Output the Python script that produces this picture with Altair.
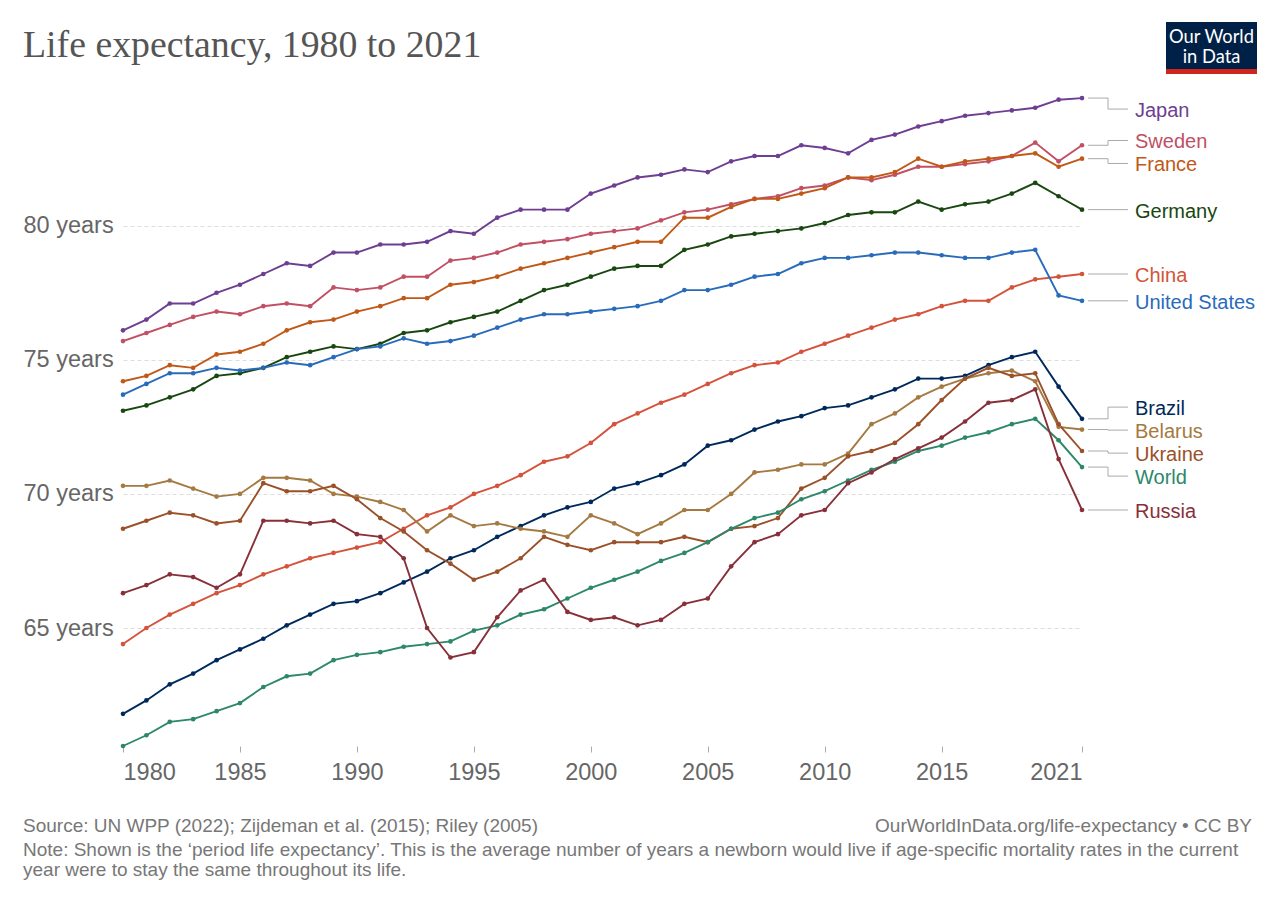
import altair as alt
import pandas as pd

years = list(range(1980, 2022))

countries = ["Japan", "Sweden", "France", "Germany", "China", "United States",
             "Brazil", "Belarus", "Ukraine", "World", "Russia"]
colors = ["#6D3E91", "#C15065", "#C05917", "#18470F", "#D4533B", "#286BBB",
          "#00295B", "#A57942", "#9A5129", "#2D8769", "#883039"]

japan = [76.1, 76.5, 77.1, 77.1, 77.5, 77.8, 78.2, 78.6, 78.5, 79.0,
         79.0, 79.3, 79.3, 79.4, 79.8, 79.7, 80.3, 80.6, 80.6, 80.6,
         81.2, 81.5, 81.8, 81.9, 82.1, 82.0, 82.4, 82.6, 82.6, 83.0,
         82.9, 82.7, 83.2, 83.4, 83.7, 83.9, 84.1, 84.2, 84.3, 84.4,
         84.7, 84.76]
sweden = [75.7, 76.0, 76.3, 76.6, 76.8, 76.7, 77.0, 77.1, 77.0, 77.7,
          77.6, 77.7, 78.1, 78.1, 78.7, 78.8, 79.0, 79.3, 79.4, 79.5,
          79.7, 79.8, 79.9, 80.2, 80.5, 80.6, 80.8, 81.0, 81.1, 81.4,
          81.5, 81.8, 81.7, 81.9, 82.2, 82.2, 82.3, 82.4, 82.6, 83.1,
          82.4, 83.0]
france = [74.2, 74.4, 74.8, 74.7, 75.2, 75.3, 75.6, 76.1, 76.4, 76.5,
          76.8, 77.0, 77.3, 77.3, 77.8, 77.9, 78.1, 78.4, 78.6, 78.8,
          79.0, 79.2, 79.4, 79.4, 80.3, 80.3, 80.7, 81.0, 81.0, 81.2,
          81.4, 81.8, 81.8, 82.0, 82.5, 82.2, 82.4, 82.5, 82.6, 82.7,
          82.2, 82.5]
germany = [73.1, 73.3, 73.6, 73.9, 74.4, 74.5, 74.7, 75.1, 75.3, 75.5,
           75.4, 75.6, 76.0, 76.1, 76.4, 76.6, 76.8, 77.2, 77.6, 77.8,
           78.1, 78.4, 78.5, 78.5, 79.1, 79.3, 79.6, 79.7, 79.8, 79.9,
           80.1, 80.4, 80.5, 80.5, 80.9, 80.6, 80.8, 80.9, 81.2, 81.6,
           81.1, 80.6]
china = [64.4, 65.0, 65.5, 65.9, 66.3, 66.6, 67.0, 67.3, 67.6, 67.8,
         68.0, 68.2, 68.7, 69.2, 69.5, 70.0, 70.3, 70.7, 71.2, 71.4,
         71.9, 72.6, 73.0, 73.4, 73.7, 74.1, 74.5, 74.8, 74.9, 75.3,
         75.6, 75.9, 76.2, 76.5, 76.7, 77.0, 77.2, 77.2, 77.7, 78.0,
         78.1, 78.2]
united_states = [73.7, 74.1, 74.5, 74.5, 74.7, 74.6, 74.7, 74.9, 74.8, 75.1,
                 75.4, 75.5, 75.8, 75.6, 75.7, 75.9, 76.2, 76.5, 76.7, 76.7,
                 76.8, 76.9, 77.0, 77.2, 77.6, 77.6, 77.8, 78.1, 78.2, 78.6,
                 78.8, 78.8, 78.9, 79.0, 79.0, 78.9, 78.8, 78.8, 79.0, 79.1,
                 77.4, 77.2]
brazil = [61.8, 62.3, 62.9, 63.3, 63.8, 64.2, 64.6, 65.1, 65.5, 65.9,
          66.0, 66.3, 66.7, 67.1, 67.6, 67.9, 68.4, 68.8, 69.2, 69.5,
          69.7, 70.2, 70.4, 70.7, 71.1, 71.8, 72.0, 72.4, 72.7, 72.9,
          73.2, 73.3, 73.6, 73.9, 74.3, 74.3, 74.4, 74.8, 75.1, 75.3,
          74.0, 72.8]
belarus = [70.3, 70.3, 70.5, 70.2, 69.9, 70.0, 70.6, 70.6, 70.5, 70.0,
           69.9, 69.7, 69.4, 68.6, 69.2, 68.8, 68.9, 68.7, 68.6, 68.4,
           69.2, 68.9, 68.5, 68.9, 69.4, 69.4, 70.0, 70.8, 70.9, 71.1,
           71.1, 71.5, 72.6, 73.0, 73.6, 74.0, 74.3, 74.5, 74.6, 74.2,
           72.5, 72.4]
ukraine = [68.7, 69.0, 69.3, 69.2, 68.9, 69.0, 70.4, 70.1, 70.1, 70.3,
           69.8, 69.1, 68.6, 67.9, 67.4, 66.8, 67.1, 67.6, 68.4, 68.1,
           67.9, 68.2, 68.2, 68.2, 68.4, 68.2, 68.7, 68.8, 69.1, 70.2,
           70.6, 71.4, 71.6, 71.9, 72.6, 73.5, 74.3, 74.7, 74.4, 74.5,
           72.6, 71.6]
world = [60.6, 61.0, 61.5, 61.6, 61.9, 62.2, 62.8, 63.2, 63.3, 63.8,
         64.0, 64.1, 64.3, 64.4, 64.5, 64.9, 65.1, 65.5, 65.7, 66.1,
         66.5, 66.8, 67.1, 67.5, 67.8, 68.2, 68.7, 69.1, 69.3, 69.8,
         70.1, 70.5, 70.9, 71.2, 71.6, 71.8, 72.1, 72.3, 72.6, 72.8,
         72.0, 71.0]
russia = [66.3, 66.6, 67.0, 66.9, 66.5, 67.0, 69.0, 69.0, 68.9, 69.0,
          68.5, 68.4, 67.6, 65.0, 63.9, 64.1, 65.4, 66.4, 66.8, 65.6,
          65.3, 65.4, 65.1, 65.3, 65.9, 66.1, 67.3, 68.2, 68.5, 69.2,
          69.4, 70.4, 70.8, 71.3, 71.7, 72.1, 72.7, 73.4, 73.5, 73.9,
          71.3, 69.4]

series = [japan, sweden, france, germany, china, united_states,
          brazil, belarus, ukraine, world, russia]

x_ticks = [1980, 1985, 1990, 1995, 2000, 2005, 2010, 2015, 2021]
y_ticks = [65, 70, 75, 80]

title_text = "Life expectancy, 1980 to 2021"
source_text = "Source: UN WPP (2022); Zijdeman et al. (2015); Riley (2005)"
url_text = "OurWorldInData.org/life-expectancy \u2022 CC BY"
note_line1 = ("Note: Shown is the \u2018period life expectancy\u2019. This is the average number of years "
              "a newborn would live if age-specific mortality rates in the current")
note_line2 = "year were to stay the same throughout its life."

YMIN, YMAX = 60.6, 84.8
W, H = 959, 649
GAP = 23 * (YMAX - YMIN) / H  # label spacing in data units

rows = []
for c, vals in zip(countries, series):
    for yr, v in zip(years, vals):
        rows.append({"country": c, "year": yr, "value": v})
df = pd.DataFrame(rows)

last = [s[-1] for s in series]


def label_positions(vals, gap, top):
    order = sorted(range(len(vals)), key=lambda i: -vals[i])
    groups = [[i] for i in order]

    def layout(g):
        c = sum(vals[i] for i in g) / len(g)
        t = min(c + (len(g) - 1) * gap / 2, top)
        return [t - k * gap for k in range(len(g))]

    changed = True
    while changed:
        changed = False
        for j in range(len(groups) - 1):
            a, b = layout(groups[j]), layout(groups[j + 1])
            if a[-1] - b[0] < gap - 1e-9:
                groups[j] = groups[j] + groups[j + 1]
                del groups[j + 1]
                changed = True
                break
    pos = {}
    for g in groups:
        for i, p in zip(g, layout(g)):
            pos[i] = p
    return [pos[i] for i in range(len(vals))]


lab = label_positions(last, GAP, YMAX - 0.45)
lab_df = pd.DataFrame({"country": countries, "last": last, "label": lab})

FONT = "Liberation Sans"
color_scale = alt.Scale(domain=countries, range=colors)
xs = alt.Scale(domain=[1980, 2021], nice=False, zero=False)
ys = alt.Scale(domain=[YMIN, YMAX], nice=False, zero=False)

x_axis = alt.Axis(values=x_ticks, format="d", title=None, domain=False, grid=False,
                  tickColor="#aaaaaa", tickSize=6, labelPadding=8, labelFlush=True,
                  labelOverlap=False, labelFontSize=23.5, labelColor="#666666",
                  labelFont=FONT)
y_axis = alt.Axis(values=y_ticks, title=None, domain=False, ticks=False, tickSize=0,
                  labelExpr="datum.value + ' years'", labelAlign="left",
                  labelPadding=100, labelFontSize=23.5, labelColor="#666666",
                  labelFont=FONT, grid=True, gridColor="#dddddd", gridDash=[4, 3],
                  gridWidth=1, labelOverlap=False)

base = alt.Chart(df).encode(
    x=alt.X("year:Q", scale=xs, axis=x_axis),
    y=alt.Y("value:Q", scale=ys, axis=y_axis),
    color=alt.Color("country:N", scale=color_scale, legend=None),
    detail="country:N",
)
lines = base.mark_line(strokeWidth=1.9)
points = base.mark_circle(size=22, opacity=1)

lab_base = alt.Chart(lab_df)
lead_color = "#aaaaaa"
r1 = lab_base.mark_rule(color=lead_color, strokeWidth=1).encode(
    x=alt.value(W + 6), x2=alt.value(W + 26), y=alt.Y("last:Q", scale=ys, axis=y_axis))
r2 = lab_base.mark_rule(color=lead_color, strokeWidth=1).encode(
    x=alt.value(W + 26), y=alt.Y("last:Q", scale=ys, axis=y_axis), y2="label:Q")
r3 = lab_base.mark_rule(color=lead_color, strokeWidth=1).encode(
    x=alt.value(W + 26), x2=alt.value(W + 46), y=alt.Y("label:Q", scale=ys, axis=y_axis))
labels = lab_base.mark_text(align="left", baseline="middle", fontSize=20, font=FONT,
                            dy=2).encode(
    x=alt.value(W + 53), y=alt.Y("label:Q", scale=ys, axis=y_axis), text="country:N",
    color=alt.Color("country:N", scale=color_scale, legend=None))

one = pd.DataFrame({"k": [0]})


def txt(text, x, y, size, color, font=FONT, align="left", weight="normal"):
    return alt.Chart(one).mark_text(text=text, align=align, baseline="alphabetic",
                                    fontSize=size, font=font, color=color,
                                    fontWeight=weight).encode(
        x=alt.value(x), y=alt.value(y))


title = txt(title_text, -100, -40.5, 37.8, "#555555", font="Liberation Serif")
source = txt(source_text, -100, 735, 19, "#777777")
note1 = txt(note_line1, -100, 759, 19, "#777777")
note2 = txt(note_line2, -100, 779, 19, "#777777")
url = txt(url_text, 1129, 735, 19, "#777777", align="right")

logo_box = alt.Chart(one).mark_rect(color="#002147").encode(
    x=alt.value(1043), x2=alt.value(1134), y=alt.value(-75), y2=alt.value(-28))
logo_bar = alt.Chart(one).mark_rect(color="#CE261E").encode(
    x=alt.value(1043), x2=alt.value(1134), y=alt.value(-28), y2=alt.value(-23))
logo1 = txt("Our World", 1088.5, -54, 18.3, "#ffffff", font="Lato", align="center")
logo2 = txt("in Data", 1088.5, -34.5, 18.3, "#ffffff", font="Lato", align="center")

chart = alt.layer(
    lines, points, r1, r2, r3, labels, title, source, note1, note2, url,
    logo_box, logo_bar, logo1, logo2
).properties(
    width=W, height=H,
    padding={"left": 15, "top": 14, "right": 5, "bottom": 5},
    background="white",
).configure_view(stroke=None)

chart.save("out.html", embed_options={"renderer": "svg", "actions": False})
